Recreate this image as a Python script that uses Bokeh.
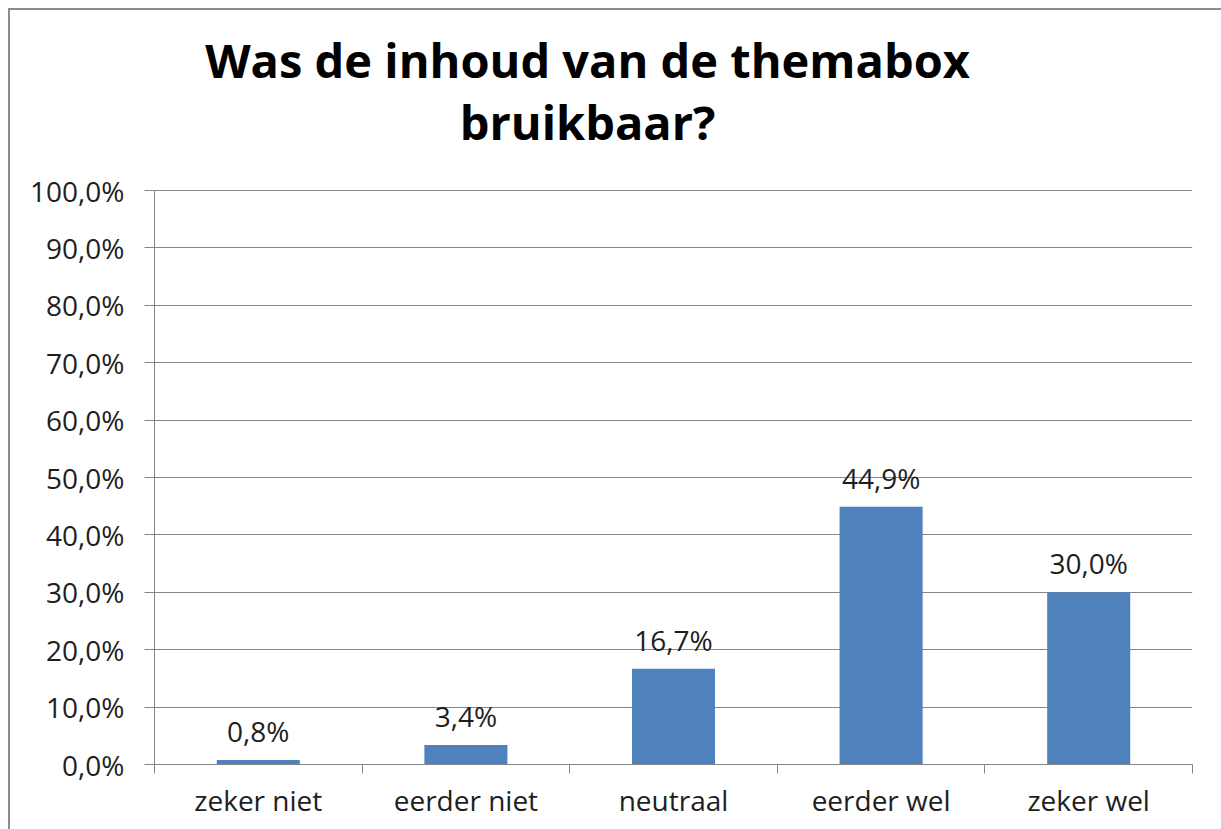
from bokeh.plotting import figure
from bokeh.models import (Range1d, LinearAxis, FixedTicker, ColumnDataSource, Label)
from bokeh.core.properties import value
from bokeh.embed import file_html
from bokeh.resources import INLINE

categories = ["zeker niet", "eerder niet", "neutraal", "eerder wel", "zeker wel"]
percentages = [0.8, 3.4, 16.7, 44.9, 30.0]
y_ticks = [0, 10, 20, 30, 40, 50, 60, 70, 80, 90, 100]
y_tick_labels = ["0,0%", "10,0%", "20,0%", "30,0%", "40,0%", "50,0%",
                 "60,0%", "70,0%", "80,0%", "90,0%", "100,0%"]
title_lines = ["Was de inhoud van de themabox", "bruikbaar?"]

FONT = "Open Sans"
GRID = "#868686"
TEXT = "#1e1e1e"

n = len(categories)
centers = [i + 0.5 for i in range(n)]
edges = list(range(n + 1))

src = ColumnDataSource(dict(
    x=centers,
    cat=categories,
    val=percentages,
    lab=[("%.1f%%" % v).replace(".", ",") for v in percentages],
))

# frame spans from just under the border to the 0% line; 100% sits at 574 px above 0%
Y_TOP = 744 / 5.74

p = figure(
    x_range=Range1d(0, n),
    y_range=Range1d(0, Y_TOP),
    width=1211, height=819,
    frame_width=1038, frame_height=744,
    min_border_left=144, min_border_right=29, min_border_top=10, min_border_bottom=65,
    x_axis_location=None, y_axis_location=None,
    toolbar_location=None, output_backend="svg",
    styles={"border-left": "2px solid #8c8c8c", "border-top": "2px solid #8c8c8c",
            "margin-left": "8px", "margin-top": "8px"},
)
p.outline_line_color = None
p.xgrid.grid_line_color = None
p.ygrid.grid_line_color = GRID
p.ygrid.grid_line_width = 1
p.ygrid.ticker = FixedTicker(ticks=y_ticks)

# y axis
yax = LinearAxis(ticker=FixedTicker(ticks=y_ticks), bounds=(0, 100))
yax.major_label_overrides = {t: l for t, l in zip(y_ticks, y_tick_labels)}
yax.axis_line_color = GRID
yax.major_tick_line_color = GRID
yax.major_tick_out = 10
yax.major_tick_in = 0
yax.minor_tick_line_color = None
yax.major_label_standoff = 20
yax.major_label_text_font = FONT
yax.major_label_text_font_size = "28px"
yax.major_label_text_color = TEXT
p.add_layout(yax, "left")

# x axis: boundary ticks
xt = LinearAxis(ticker=FixedTicker(ticks=edges))
xt.axis_line_color = GRID
xt.major_tick_line_color = GRID
xt.major_tick_out = 9
xt.major_tick_in = 0
xt.minor_tick_line_color = None
xt.major_label_text_font_size = "0px"
xt.major_label_standoff = 0
xt.major_label_text_color = None
p.add_layout(xt, "below")

# x axis: category labels
xc = LinearAxis(ticker=FixedTicker(ticks=centers))
xc.major_label_overrides = {c: name for c, name in zip(centers, categories)}
xc.axis_line_color = None
xc.major_tick_line_color = None
xc.minor_tick_line_color = None
xc.major_tick_out = 0
xc.major_tick_in = 0
xc.major_label_standoff = 7
xc.major_label_text_font = FONT
xc.major_label_text_font_size = "28px"
xc.major_label_text_color = TEXT
p.add_layout(xc, "below")

p.vbar(x="x", top="val", width=0.4, source=src, fill_color="#4F81BD", line_color=None)
p.text(x="x", y="val", text="lab", source=src, text_align="center", text_baseline="middle",
       y_offset=-29, text_font=value(FONT), text_font_size="28px", text_color=TEXT)

for txt, yy in zip(title_lines, [122.7, 111.9]):
    p.add_layout(Label(x=2.086, y=yy, text=txt, text_align="center", text_baseline="alphabetic",
                       text_font=FONT, text_font_size="47px", text_font_style="bold",
                       text_color="#000000"))

open("out.html", "w").write(file_html(p, INLINE))
